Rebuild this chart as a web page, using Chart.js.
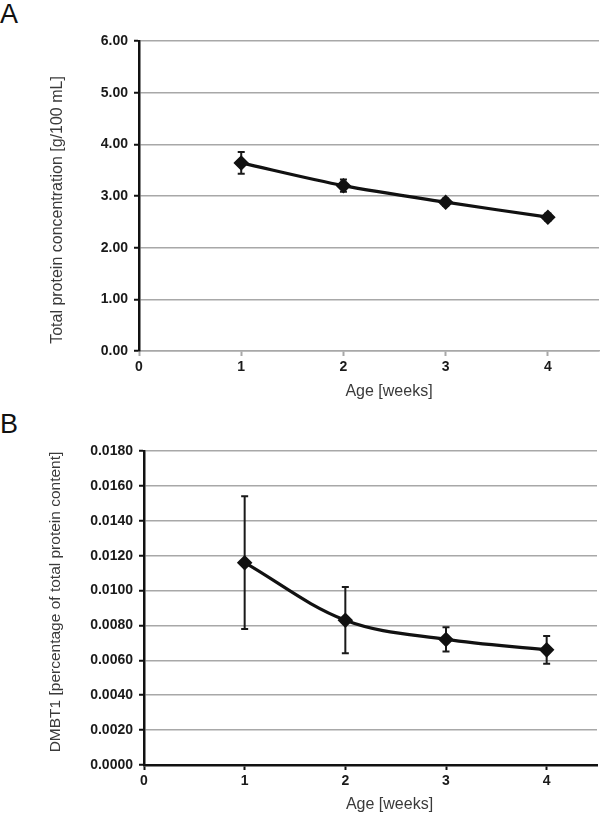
<!DOCTYPE html>
<html><head><meta charset="utf-8">
<script src="https://cdn.jsdelivr.net/npm/chart.js@4"></script>
<style>
body{margin:0;background:#fff;width:600px;height:815px;position:relative;overflow:hidden;font-family:"Liberation Sans",Arial,sans-serif}
.lbl{position:absolute;font-size:27px;color:#111;line-height:1}
canvas{position:absolute;left:0}
</style></head><body>
<div class="lbl" style="left:0;top:1px">A</div>
<div class="lbl" style="left:0;top:411px">B</div>
<canvas id="a" width="600" height="405" style="top:0"></canvas>
<canvas id="b" width="600" height="410" style="top:405px"></canvas>
<script>
const weeks = [1, 2, 3, 4];
const proteinMean = [3.64, 3.20, 2.88, 2.59];
const proteinErr = [0.21, 0.12, 0.07, 0.07];
const dmbt1Mean = [0.0116, 0.0083, 0.0072, 0.0066];
const dmbt1Err = [0.0038, 0.0019, 0.0007, 0.0008];
const xTickValues = [0, 1, 2, 3, 4];
const xTitle = 'Age [weeks]';
const yTitleA = 'Total protein concentration [g/100 mL]';
const yTitleB = 'DMBT1 [percentage of total protein content]';

const FONT = '"Liberation Sans", Arial, sans-serif';
const GRID = '#a8a8a8';

const errorBars = {
  id: 'errorBars',
  beforeDatasetsDraw(chart, args, opts) {
    const {ctx, scales: {x, y}} = chart;
    const ds = chart.data.datasets[0];
    ctx.save();
    ctx.strokeStyle = '#1a1a1a';
    ctx.lineWidth = 2;
    ds.data.forEach((p, i) => {
      const e = opts.errors[i];
      const px = x.getPixelForValue(p.x);
      const top = y.getPixelForValue(p.y + e), bot = y.getPixelForValue(p.y - e);
      ctx.beginPath();
      ctx.moveTo(px, top); ctx.lineTo(px, bot);
      ctx.moveTo(px - 3.5, top); ctx.lineTo(px + 3.5, top);
      ctx.moveTo(px - 3.5, bot); ctx.lineTo(px + 3.5, bot);
      ctx.stroke();
    });
    ctx.restore();
  }
};

const axisTitles = {
  id: 'axisTitles',
  afterDraw(chart, args, opts) {
    const {ctx, chartArea: ca} = chart;
    ctx.save();
    ctx.fillStyle = '#3a3a3a';
    ctx.textAlign = 'center';
    ctx.textBaseline = 'middle';
    ctx.font = '16px ' + FONT;
    ctx.fillText(opts.xText, (ca.left + ca.right) / 2 + opts.xShift, opts.xY);
    ctx.font = opts.ySize + 'px ' + FONT;
    ctx.translate(opts.yX, (ca.top + ca.bottom) / 2 + opts.yShift);
    ctx.rotate(-Math.PI / 2);
    ctx.fillText(opts.yText, 0, 0);
    ctx.restore();
  }
};

function makeChart(id, means, errs, cfg) {
  const pts = weeks.map((w, i) => ({x: w, y: means[i]}));
  return new Chart(document.getElementById(id), {
    type: 'line',
    data: {datasets: [{
      data: pts,
      borderColor: '#111',
      backgroundColor: '#111',
      borderWidth: 3.2,
      pointStyle: 'rectRot',
      pointRadius: 5.5,
      pointBackgroundColor: '#111',
      pointBorderColor: '#111',
      tension: cfg.tension
    }]},
    plugins: [errorBars, axisTitles],
    options: {
      responsive: false,
      animation: false,
      layout: {padding: cfg.padding, autoPadding: false},
      plugins: {
        legend: {display: false},
        tooltip: {enabled: false},
        errorBars: {errors: errs},
        axisTitles: cfg.titles
      },
      scales: {
        x: {
          type: 'linear', min: 0, max: 4.5,
          afterBuildTicks(s) { s.ticks = xTickValues.map(v => ({value: v})); },
          afterFit(s) { s.height = cfg.xHeight; s.paddingRight = 0; s.paddingLeft = 0; },
          border: {color: cfg.xBorder, width: cfg.xBorderWidth},
          grid: {drawOnChartArea: false, color: cfg.xBorder, tickLength: 5, tickWidth: 2},
          ticks: {padding: 3, color: '#1a1a1a', font: {family: FONT, size: 14, weight: 'bold'},
                  callback: v => String(v)}
        },
        y: {
          min: 0, max: cfg.yMax,
          afterBuildTicks(s) {
            const t = [];
            for (let k = 0; k <= cfg.yCount; k++) t.push({value: k * cfg.yStep});
            s.ticks = t;
          },
          afterFit(s) { s.width = cfg.yWidth; },
          border: {color: '#111', width: 2.5},
          grid: {
            color: c => (c.tick && c.tick.value === 0 && cfg.hideZeroGrid) ? 'rgba(0,0,0,0)' : GRID,
            lineWidth: 1.5, tickColor: '#111', tickLength: 5, tickWidth: 2
          },
          ticks: {padding: 6, color: '#1a1a1a', font: {family: FONT, size: 14, weight: 'bold'},
                  callback: v => Number(v).toFixed(cfg.decimals)}
        }
      }
    }
  });
}

makeChart('a', proteinMean, proteinErr, {
  tension: 0.3, padding: {top: 41, right: 1, left: 0, bottom: 0},
  xHeight: 54, yWidth: 139, yMax: 6, yStep: 1, yCount: 6, decimals: 2,
  xBorder: GRID, xBorderWidth: 1.5, hideZeroGrid: false,
  titles: {xText: xTitle, xShift: 20, xY: 392, yText: yTitleA, yX: 58, yShift: 14, ySize: 16}
});
makeChart('b', dmbt1Mean, dmbt1Err, {
  tension: 0.35, padding: {top: 46, right: 3, left: 0, bottom: 0},
  xHeight: 50, yWidth: 144, yMax: 0.018, yStep: 0.002, yCount: 9, decimals: 4,
  xBorder: '#111', xBorderWidth: 2.5, hideZeroGrid: true,
  titles: {xText: xTitle, xShift: 19, xY: 400, yText: yTitleB, yX: 56, yShift: -6, ySize: 15.5}
});
</script>
</body></html>
